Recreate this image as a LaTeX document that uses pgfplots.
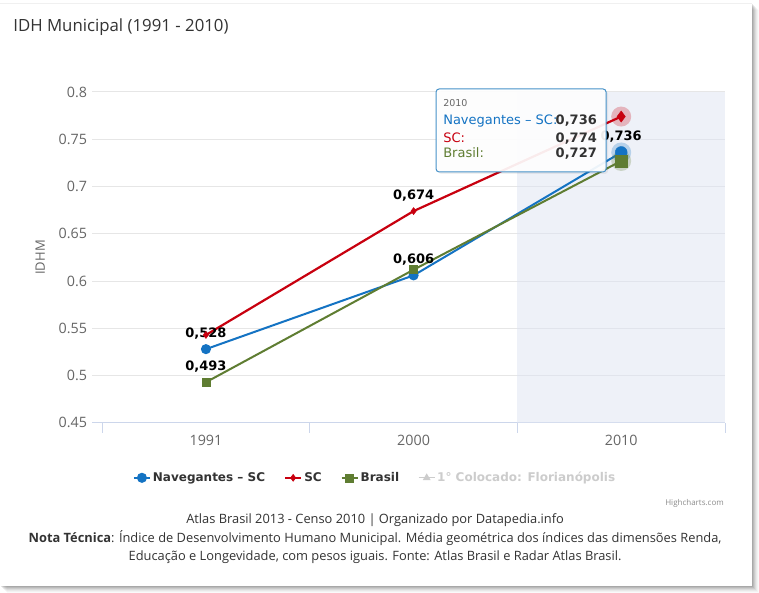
\documentclass[border=0pt]{standalone}
\usepackage{pgfplots}
\pgfplotsset{compat=1.18}
\usepackage{fontspec}
\setmainfont{Open Sans}
\newfontfamily\dejavu{DejaVu Sans}
\definecolor{blueS}{RGB}{20,115,195}
\definecolor{redS}{RGB}{200,0,15}
\definecolor{greenS}{RGB}{95,125,50}
\definecolor{bandc}{RGB}{222,228,242}
\definecolor{gridc}{RGB}{230,230,230}
\definecolor{axisc}{RGB}{204,214,235}
\definecolor{tickc}{RGB}{102,102,102}
\definecolor{darkc}{RGB}{51,51,51}
\definecolor{hidc}{RGB}{204,204,204}
\definecolor{tipb}{RGB}{70,145,200}
\begin{document}
\begin{tikzpicture}[x=1pt,y=1pt]
\fill[white] (0,0) rectangle (759,593);
\foreach \i/\o in {1/0.10,2/0.08,3/0.07,4/0.05,5/0.04,6/0.03,7/0.02} {
  \fill[black,opacity=\o] (\i,7-\i) rectangle (752+\i,590-\i);
}
\fill[white] (0,7) rectangle (752,590);
\draw[black!6] (0,590) -- (752,590);
\node[anchor=base west, inner sep=0pt, text=darkc, font=\fontsize{16.8}{19}\selectfont] at (13,561.5) {IDH Municipal (1991 - 2010)};
\begin{axis}[
  at={(92pt,170pt)}, anchor=south west,
  scale only axis, width=633pt, height=331pt,
  xmin=-0.548, xmax=2.5, ymin=0.45, ymax=0.8,
  /pgf/number format/assume math mode=true,
  ytick={0.45,0.5,0.55,0.6,0.65,0.7,0.75,0.8},
  yticklabels={0.45,0.5,0.55,0.6,0.65,0.7,0.75,0.8},
  xtick={0,1,2}, xticklabels={1991,2000,2010},
  ymajorgrids, grid style={gridc, line width=1pt},
  axis x line*=bottom, axis y line*=left,
  x axis line style={axisc, line width=1pt, -},
  y axis line style={draw=none},
  major tick length=0pt,
  extra x ticks={-0.5,0.5,1.5,2.5}, extra x tick labels={},
  extra x tick style={major tick length=10pt, tick align=outside, tick style={axisc, line width=1pt}, grid=none},
  xticklabel style={font=\fontsize{14.3}{14.3}\selectfont, text=tickc, anchor=north, inner sep=0pt, yshift=-12pt},
  yticklabel style={font=\fontsize{14.3}{14.3}\selectfont, text=tickc, anchor=east, inner sep=0pt, xshift=-5pt},
  ylabel={IDHM},
  every axis y label/.style={at={(rel axis cs:0,0.5)}, xshift=-52pt, rotate=90, anchor=center, font=\fontsize{13}{13}\selectfont, text=tickc},
  legend style={draw=none, fill=none, at={(0.447,-0.166)}, anchor=center,
     font=\dejavu\bfseries\fontsize{12}{12}\selectfont, text=darkc,
     /tikz/every even column/.append style={column sep=17pt}},
  legend columns=4, legend cell align=left,
  legend image code/.code={\draw[mark repeat=2,mark phase=2,#1] plot coordinates {(0pt,0pt) (8pt,0pt) (16pt,0pt)};},
  nodes near coords, point meta=explicit symbolic,
  every node near coord/.append style={font=\dejavu\bfseries\fontsize{13}{13}\selectfont, text=black, anchor=base, inner sep=0pt, yshift=12pt},
]
\fill[bandc, opacity=0.5] (axis cs:1.5,0.45) rectangle (axis cs:2.5,0.8);
% hover halos
\addplot[forget plot, only marks, mark=*, mark size=10pt, mark options={draw opacity=0, fill=redS, fill opacity=0.25}, nodes near coords=] coordinates {(2,0.774) []};
\addplot[forget plot, only marks, mark=*, mark size=10pt, mark options={draw opacity=0, fill=blueS, fill opacity=0.25}, nodes near coords=] coordinates {(2,0.736) []};
\addplot[forget plot, only marks, mark=*, mark size=10pt, mark options={draw opacity=0, fill=greenS, fill opacity=0.25}, nodes near coords=] coordinates {(2,0.727) []};
% series
\addplot[blueS, line width=2pt, mark=*, mark size=4pt, mark options={solid, fill=blueS}]
  coordinates {(0,0.528) [0{,}528] (1,0.606) [0{,}606] (2,0.736) [0{,}736]};
\addlegendentry{Navegantes – SC}
\addplot[redS, line width=2.2pt, mark=diamond*, mark size=3.5pt, mark options={solid, fill=redS, line width=0.5pt}]
  coordinates {(0,0.543) [] (1,0.674) [0{,}674] (2,0.774) []};
\addlegendentry{SC}
\addplot[greenS, line width=2pt, mark=square*, mark size=4pt, mark options={solid, fill=greenS, line width=0.5pt}]
  coordinates {(0,0.493) [0{,}493] (1,0.612) [] (2,0.727) []};
\addlegendentry{Brasil}
\addlegendimage{hidc, line width=1pt, mark=triangle*, mark size=3.5pt}
\addlegendentry[text=hidc]{1° Colocado: Florianópolis}
% hover markers
\addplot[forget plot, only marks, mark=diamond*, mark size=5.5pt, mark options={draw=redS, fill=redS, line width=0.5pt}, nodes near coords=] coordinates {(2,0.774) []};
\addplot[forget plot, only marks, mark=*, mark size=6pt, mark options={draw=blueS, fill=blueS}, nodes near coords=] coordinates {(2,0.736) []};
\addplot[forget plot, only marks, mark=square*, mark size=6pt, mark options={draw=greenS, fill=greenS}, nodes near coords=] coordinates {(2,0.727) []};
\end{axis}
% tooltip
\fill[black, opacity=0.06, rounded corners=3pt] (438,419) rectangle (608,502);
\draw[tipb, fill=white, fill opacity=0.92, rounded corners=3pt, line width=1pt] (436,421) rectangle (606,504);
\node[anchor=base west, inner sep=0pt, text=tickc, font=\dejavu\fontsize{9.5}{9.5}\selectfont] at (443,486.5) {2010};
\node[anchor=base west, inner sep=0pt, text=blueS, font=\dejavu\fontsize{13}{13}\selectfont] at (443,468) {Navegantes – SC:};
\node[anchor=base west, inner sep=0pt, text=redS, font=\dejavu\fontsize{13}{13}\selectfont] at (443,450) {SC:};
\node[anchor=base west, inner sep=0pt, text=greenS, font=\dejavu\fontsize{13}{13}\selectfont] at (443,435) {Brasil:};
\node[anchor=base east, inner sep=0pt, text=darkc, font=\dejavu\bfseries\fontsize{13}{13}\selectfont] at (597,468) {0,736};
\node[anchor=base east, inner sep=0pt, text=darkc, font=\dejavu\bfseries\fontsize{13}{13}\selectfont] at (597,450) {0,774};
\node[anchor=base east, inner sep=0pt, text=darkc, font=\dejavu\bfseries\fontsize{13}{13}\selectfont] at (597,435) {0,727};
% credits and footer
\node[anchor=base east, inner sep=0pt, text=black!45, font=\fontsize{8}{8}\selectfont] at (724,87) {Highcharts.com};
\node[anchor=base, inner sep=0pt, text=darkc, font=\fontsize{12.85}{13}\selectfont] at (375,69) {Atlas Brasil 2013 - Censo 2010 | Organizado por Datapedia.info};
\node[anchor=base, inner sep=0pt, text=darkc, font=\fontsize{12.85}{13}\selectfont] at (375,50.5) {\textbf{Nota Técnica}: Índice de Desenvolvimento Humano Municipal. Média geométrica dos índices das dimensões Renda,};
\node[anchor=base, inner sep=0pt, text=darkc, font=\fontsize{12.85}{13}\selectfont] at (375,32) {Educação e Longevidade, com pesos iguais. Fonte: Atlas Brasil e Radar Atlas Brasil.};
\end{tikzpicture}
\end{document}
